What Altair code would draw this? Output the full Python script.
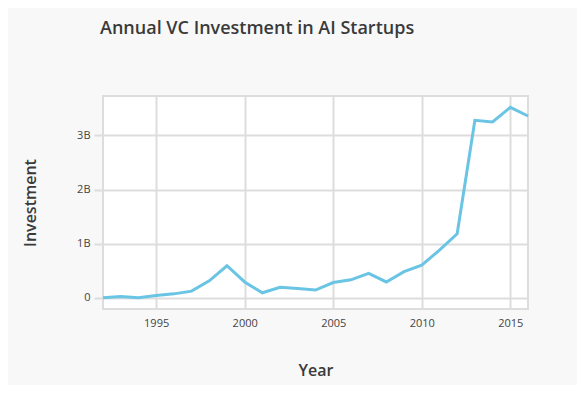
import altair as alt
import pandas as pd

years = list(range(1992, 2017))
investment_b = [0.0, 0.02, 0.0, 0.04, 0.07, 0.12, 0.31, 0.59, 0.29, 0.09, 0.19, 0.17, 0.14,
                0.28, 0.33, 0.45, 0.29, 0.48, 0.60, 0.88, 1.18, 3.28, 3.25, 3.52, 3.36]

df = pd.DataFrame({"Year": years, "Investment": [v * 1e9 for v in investment_b]})

FONT = "Open Sans"

chart = alt.Chart(df).mark_line(color="#6ac4e4", strokeWidth=3).encode(
    x=alt.X("Year:Q",
            scale=alt.Scale(domain=[1992, 2016], nice=False, zero=False),
            axis=alt.Axis(values=[1995, 2000, 2005, 2010, 2015], format="d",
                          title="Year", ticks=False, labelPadding=8,
                          titlePadding=34)),
    y=alt.Y("Investment:Q",
            scale=alt.Scale(domain=[-0.21e9, 3.73e9], nice=False, zero=False),
            axis=alt.Axis(values=[0, 1e9, 2e9, 3e9],
                          labelExpr="datum.value == 0 ? '0' : (datum.value / 1e9) + 'B'",
                          title="Investment", tickSize=9, labelPadding=4,
                          titlePadding=38)),
).properties(
    width=425,
    height=213,
    title=alt.TitleParams("Annual VC Investment in AI Startups", anchor="start",
                          frame="group", dx=-3, offset=58, fontSize=18, fontWeight=600,
                          font=FONT, color="#3a3a3a"),
    autosize=alt.AutoSizeParams(type="none"),
    padding={"left": 95, "top": 88, "right": 49, "bottom": 76},
    background="#f8f8f8",
).configure_view(
    fill="white", stroke="#dddddd", strokeWidth=2
).configure_axis(
    gridColor="#dddddd", gridWidth=2, domain=False,
    tickColor="#dddddd", tickWidth=2,
    labelFont=FONT, labelFontSize=11, labelColor="#444444",
    titleFont=FONT, titleFontSize=16, titleFontWeight=600, titleColor="#3a3a3a",
)

chart.save("out.html", embed_options={"renderer": "svg", "actions": False})
